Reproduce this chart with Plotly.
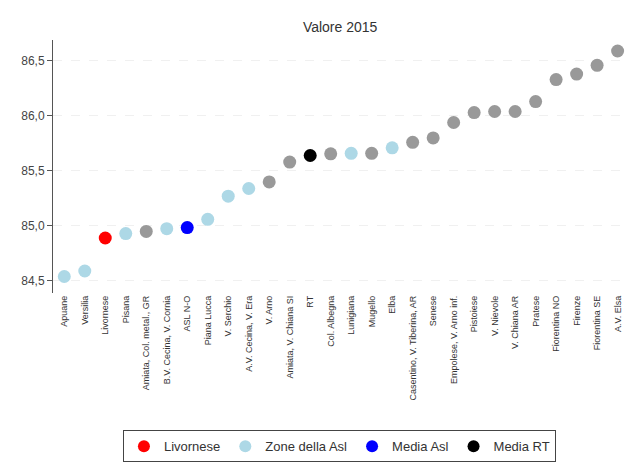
import plotly.graph_objects as go

categories = ["Apuane", "Versilia", "Livornese", "Pisana", "Amiata, Col. metal., GR",
              "B.V. Cecina, V. Cornia", "ASL N-O", "Piana Lucca", "V. Serchio",
              "A.V. Cecina, V. Era", "V. Arno", "Amiata, V. Chiana SI", "RT",
              "Col. Albegna", "Lunigiana", "Mugello", "Elba", "Casentino, V. Tiberina, AR",
              "Senese", "Empolese, V. Arno inf.", "Pistoiese", "V. Nievole", "V. Chiana AR",
              "Pratese", "Fiorentina NO", "Firenze", "Fiorentina SE", "A.V. Elsa"]
values = [84.54, 84.59, 84.89, 84.93, 84.95, 84.975, 84.985, 85.06, 85.27, 85.34,
          85.40, 85.58, 85.64, 85.655, 85.66, 85.66, 85.71, 85.76, 85.80, 85.94,
          86.03, 86.04, 86.04, 86.13, 86.33, 86.38, 86.46, 86.59]
groups = ["asl", "asl", "livornese", "asl", "other", "asl", "media_asl", "asl", "asl", "asl",
          "other", "other", "media_rt", "other", "asl", "other", "asl", "other",
          "other", "other", "other", "other", "other", "other", "other", "other", "other", "other"]

group_style = [
    ("other", None, "#999999"),
    ("livornese", "Livornese", "#ff0000"),
    ("asl", "Zone della Asl", "#add8e6"),
    ("media_asl", "Media Asl", "#0000ff"),
    ("media_rt", "Media RT", "#000000"),
]
y_ticks = [84.5, 85.0, 85.5, 86.0, 86.5]
y_tick_text = ["84,5", "85,0", "85,5", "86,0", "86,5"]

fig = go.Figure()
for key, name, color in group_style:
    xs = [c for c, g in zip(categories, groups) if g == key]
    ys = [v for v, g in zip(values, groups) if g == key]
    fig.add_trace(go.Scatter(
        x=xs, y=ys, mode="markers", name=name if name else "",
        showlegend=name is not None,
        marker=dict(color=color, size=13, line=dict(width=0)),
    ))

fig.update_layout(
    width=629, height=466,
    margin=dict(l=45, r=3, t=32, b=181, autoexpand=False),
    paper_bgcolor="white", plot_bgcolor="white",
    font=dict(family="Liberation Sans, Arial, sans-serif", color="#333333"),
    title=dict(text="Valore 2015", x=0.528, xanchor="center", y=0.959, yanchor="middle",
               font=dict(size=14, color="#333333")),
    showlegend=True,
    legend=dict(orientation="h", x=0.493, xanchor="center", y=-0.543, yanchor="top",
                bordercolor="#444444", borderwidth=1, font=dict(size=13, color="#333333"),
                itemsizing="constant", tracegroupgap=0),
)
fig.update_xaxes(
    type="category", categoryorder="array", categoryarray=categories,
    range=[-0.55, 27.8], tickangle=-90, tickfont=dict(size=9, color="#333333"),
    showgrid=False, showline=False, zeroline=False, ticks="", automargin=False,
)
fig.update_yaxes(
    range=[84.39, 86.69], tickvals=y_ticks, ticktext=y_tick_text,
    tickfont=dict(size=12, color="#444444"),
    showline=True, linecolor="#555555", linewidth=1, ticks="outside", ticklen=5,
    tickcolor="#555555", automargin=False,
    showgrid=True, gridcolor="#f0f0f0", griddash="dash", gridwidth=1, zeroline=False,
)

fig.write_html("out.html")
